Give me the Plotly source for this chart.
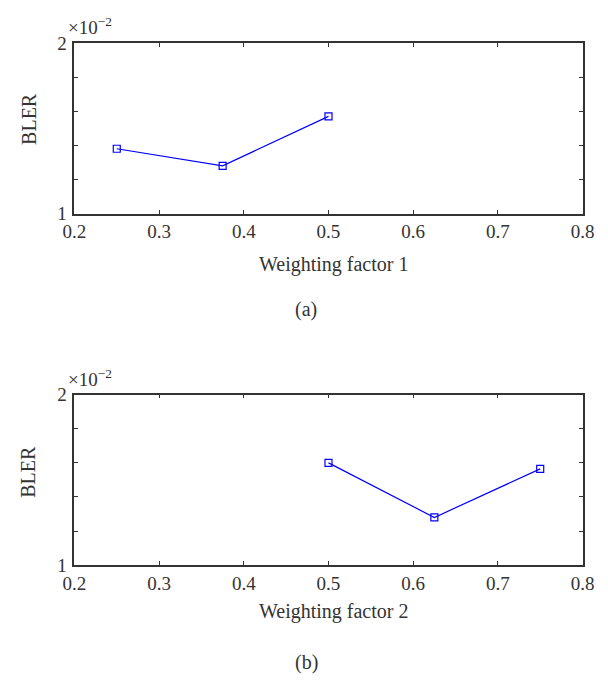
import plotly.graph_objects as go

# Panel (a): BLER versus weighting factor 1
wf1 = [0.25, 0.375, 0.5]
bler1 = [1.38, 1.28, 1.57]  # in units of 1e-2

# Panel (b): BLER versus weighting factor 2
wf2 = [0.5, 0.625, 0.75]
bler2 = [1.60, 1.28, 1.565]  # in units of 1e-2

x_ticks = [0.2, 0.3, 0.4, 0.5, 0.6, 0.7, 0.8]
x_ticktext = ["0.2", "0.3", "0.4", "0.5", "0.6", "0.7", "0.8"]
y_ticks = [1.0, 1.2, 1.4, 1.6, 1.8, 2.0]
y_ticktext = ["1", "", "", "", "", "2"]

W, H = 608, 689
FONT = "Liberation Serif"
TXT = "#333333"
LINE = "#333333"

fig = go.Figure()

for i, (xs, ys) in enumerate([(wf1, bler1), (wf2, bler2)]):
    fig.add_trace(go.Scatter(
        x=xs, y=ys, mode="lines+markers",
        line=dict(color="#0000ff", width=1.2),
        marker=dict(symbol="square-open", size=7, color="#0000ff",
                    line=dict(width=1.2, color="#0000ff")),
        xaxis="x" if i == 0 else "x2",
        yaxis="y" if i == 0 else "y2",
        showlegend=False,
    ))

x_dom = [65 / W, 594 / W]
top_dom = [1 - 210 / H, 1 - 34 / H]
bot_dom = [1 - 572.7 / H, 1 - 396.7 / H]

tick_font = dict(family=FONT, size=19, color=TXT)


def axis(**kw):
    base = dict(
        showline=True, linecolor=LINE, linewidth=1.6, mirror="ticks",
        ticks="inside", ticklen=4, tickwidth=1.2, tickcolor=LINE,
        showgrid=False, zeroline=False, tickfont=tick_font,
    )
    base.update(kw)
    return base


fig.update_layout(
    width=W, height=H,
    margin=dict(l=0, r=0, t=0, b=0),
    font=dict(family=FONT, color=TXT, size=19),
    paper_bgcolor="white", plot_bgcolor="white",
    xaxis=axis(domain=x_dom, range=[0.2, 0.8], tickvals=x_ticks,
               ticktext=x_ticktext, anchor="y", ticklabelstandoff=0),
    yaxis=axis(domain=top_dom, range=[1, 2], tickvals=y_ticks,
               ticktext=y_ticktext, anchor="x", ticklabelstandoff=2),
    xaxis2=axis(domain=x_dom, range=[0.2, 0.8], tickvals=x_ticks,
                ticktext=x_ticktext, anchor="y2", ticklabelstandoff=0),
    yaxis2=axis(domain=bot_dom, range=[1, 2], tickvals=y_ticks,
                ticktext=y_ticktext, anchor="x2", ticklabelstandoff=2),
)


def px(x, y):
    return x / W, 1 - y / H


annotations = []


def note(text, x, y, size=20, angle=0, xanchor="center"):
    ax, ay = px(x, y)
    annotations.append(dict(
        text=text, x=ax, y=ay, xref="paper", yref="paper",
        xanchor=xanchor, yanchor="middle", showarrow=False, textangle=angle,
        font=dict(family=FONT, size=size, color=TXT),
    ))


# Axis titles, exponent labels and panel captions
note("×10<sup>−2</sup>", 56, 16, size=19, xanchor="left")
note("BLER", 17, 112, angle=-90)
note("Weighting factor 1", 335, 263)
note("(a)", 306, 309)

note("×10<sup>−2</sup>", 56, 380, size=19, xanchor="left")
note("BLER", 17, 476, angle=-90)
note("Weighting factor 2", 335, 620)
note("(b)", 307, 673)

fig.update_layout(annotations=annotations)

fig.write_html("out.html")
